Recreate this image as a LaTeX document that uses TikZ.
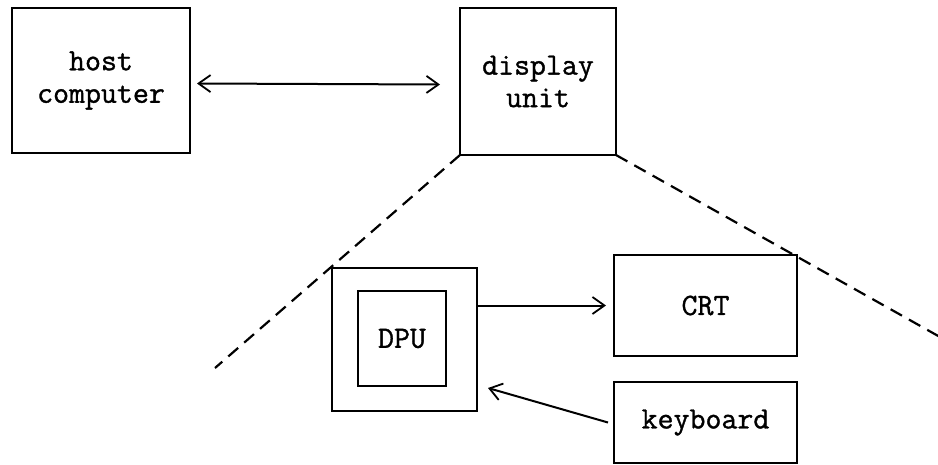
\documentclass[tikz,border=0pt]{standalone}
\usepackage{fontspec}
\usetikzlibrary{arrows.meta,calc}
\newfontfamily\typewriter[UprightFeatures={FakeBold=1.1}]{Latin Modern Mono}

\tikzset{
  unitbox/.style={draw, line width=2pt, inner sep=0pt, outer sep=0pt,
    align=center, font=\typewriter\fontsize{31}{32.5}\selectfont},
  barb/.tip={Straight Barb[length=12pt,width=17pt,line width=1.8pt]},
  link/.style={line width=2pt, -barb},
  twoway/.style={line width=2pt, barb-barb},
  boundary/.style={line width=2.2pt, dash pattern=on 13pt off 8pt}
}

\begin{document}
\begin{tikzpicture}[x=1pt, y=-1pt]
  \useasboundingbox (0,0) rectangle (938,464);

  % top level: host and display unit
  \node[unitbox, minimum width=178pt, minimum height=145pt] (host) at (101,80.5)
    {host\\computer};
  \node[unitbox, minimum width=156pt, minimum height=147pt] (disp) at (538,81.5)
    {display\\unit};

  % inside the display unit
  \node[unitbox, minimum width=145pt, minimum height=143pt] (dpuout) at (404.5,339.5) {};
  \node[unitbox, minimum width=88pt, minimum height=95pt] (dpu) at (402,338.5) {DPU};
  \node[unitbox, minimum width=183pt, minimum height=101pt] (crt) at (705.5,305.5) {CRT};
  \node[unitbox, minimum width=183pt, minimum height=81pt] (kbd) at (705.5,422.5) {keyboard};

  % ends of the exploded-view lines
  \coordinate (leftend) at (215,368);
  \coordinate (rightend) at (940,337);

  % connections
  \draw[twoway]
    ([xshift=7pt, yshift=-3pt]host.east) -- ([xshift=-20pt, yshift=-3pt]disp.west);
  \draw[link] (dpuout.east |- crt.west) -- ([xshift=-8pt]crt.west);
  \draw[link] ([xshift=-6pt]kbd.west) -- ($(dpuout.east)+(11,48.5)$);

  % exploded view of the display unit
  \draw[boundary] (disp.south west) -- (leftend);
  \draw[boundary] (disp.south east) -- (rightend);
\end{tikzpicture}
\end{document}
